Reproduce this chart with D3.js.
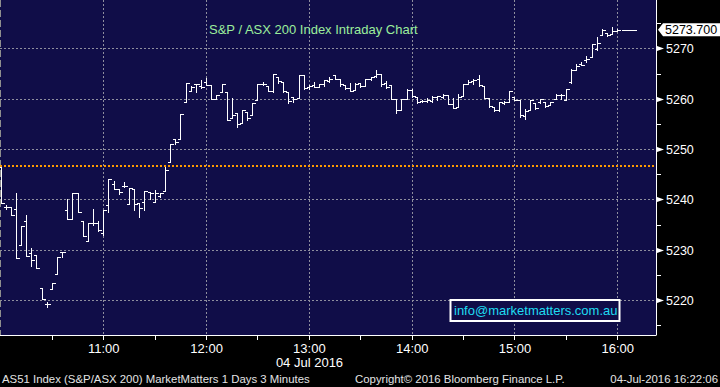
<!DOCTYPE html>
<html>
<head>
<meta charset="utf-8">
<script src="https://cdn.jsdelivr.net/npm/d3@7"></script>
<style>
html, body { margin: 0; padding: 0; background: #000; }
svg { display: block; font-family: "Liberation Sans", Arial, sans-serif; }
</style>
</head>
<body>
<div id="chart"></div>
<script>
// AS51 intraday, 3 minute bars from 10:00
var barStart = "10:00", barMinutes = 3;
var opens = [
  5246.5,5238.6,5238.6,5238.2,5231.0,5235.8,5229.3,5229.0,5222.4,5219.3,
  5222.2,5225.2,5229.5,5238.0,5236.1,5241.2,5235.7,5231.8,5235.4,5235.3,
  5233.3,5239.0,5243.1,5242.1,5242.7,5239.1,5242.1,5239.3,5239.6,5241.4,
  5239.6,5240.7,5241.6,5247.4,5252.1,5252.0,5259.3,5261.6,5263.0,5262.5,
  5263.4,5262.7,5259.9,5261.4,5261.3,5256.1,5257.1,5255.1,5257.4,5256.8,
  5259.7,5263.0,5262.6,5261.5,5264.3,5263.3,5261.4,5260.3,5260.1,5264.7,
  5262.3,5262.8,5262.4,5262.9,5263.6,5264.7,5263.9,5262.7,5262.2,5261.7,
  5263.1,5262.6,5263.9,5264.5,5264.9,5263.2,5262.8,5259.9,5257.8,5259.9,
  5261.8,5260.4,5259.5,5259.5,5259.5,5260.3,5260.4,5260.8,5259.0,5258.4,
  5260.5,5263.0,5263.5,5263.9,5262.6,5260.2,5258.4,5257.7,5259.2,5259.4,
  5260.4,5259.8,5256.6,5257.8,5259.1,5259.3,5259.4,5258.7,5259.9,5260.8,
  5259.8,5263.3,5265.8,5266.8,5267.6,5268.2,5269.8,5272.6,5273.0,5272.8,
  5273.5
];
var highs = [
  5246.5,5239.0,5238.6,5241.2,5234.8,5236.9,5230.3,5229.0,5222.4,5219.7,
  5223.5,5228.6,5229.6,5240.0,5241.2,5241.2,5235.7,5235.4,5238.1,5235.7,
  5237.9,5244.1,5243.7,5242.1,5243.5,5242.3,5242.1,5239.3,5241.6,5241.5,
  5241.9,5241.2,5246.5,5251.1,5252.1,5256.9,5263.2,5262.6,5263.0,5263.7,
  5264.2,5262.7,5260.7,5263.0,5261.3,5260.1,5257.1,5257.8,5257.4,5259.1,
  5263.0,5263.4,5262.6,5265.0,5264.4,5263.3,5261.4,5260.3,5264.7,5264.7,
  5262.7,5263.4,5262.9,5263.7,5264.4,5264.7,5263.9,5262.7,5263.1,5263.1,
  5263.1,5263.9,5264.4,5265.8,5264.9,5263.6,5262.8,5259.9,5259.9,5261.9,
  5261.9,5260.4,5259.8,5260.1,5260.5,5260.6,5260.9,5260.8,5260.2,5260.9,
  5263.0,5263.7,5264.0,5264.7,5262.6,5260.2,5258.4,5259.4,5259.5,5261.6,
  5260.4,5259.8,5257.9,5259.7,5259.1,5259.9,5259.4,5259.4,5260.9,5260.9,
  5261.9,5266.0,5266.8,5267.2,5268.5,5270.9,5272.3,5273.8,5273.1,5274.3,
  5273.8
];
var lows = [
  5239.3,5238.1,5237.0,5228.3,5231.0,5228.8,5226.7,5226.4,5220.2,5218.7,
  5222.2,5225.2,5228.6,5236.1,5236.1,5237.6,5232.8,5231.8,5234.9,5233.7,
  5232.9,5237.6,5242.0,5241.0,5242.5,5239.1,5238.0,5236.6,5238.0,5240.0,
  5239.6,5240.4,5241.6,5247.4,5251.0,5252.0,5259.3,5261.6,5261.4,5262.2,
  5262.7,5259.9,5259.9,5261.4,5255.8,5256.1,5254.3,5255.1,5255.8,5256.8,
  5259.7,5262.8,5261.5,5261.4,5263.2,5261.3,5259.1,5259.4,5260.1,5262.0,
  5262.0,5262.3,5262.3,5262.6,5263.3,5263.9,5262.5,5261.9,5261.6,5261.7,
  5262.3,5262.6,5263.7,5264.4,5262.5,5262.2,5259.9,5257.1,5257.8,5259.9,
  5260.4,5259.2,5259.3,5259.4,5259.3,5259.8,5260.1,5258.9,5258.1,5258.4,
  5260.5,5262.9,5263.0,5262.6,5260.1,5258.4,5257.6,5257.6,5258.9,5259.4,
  5259.7,5256.4,5255.9,5257.8,5257.9,5259.2,5258.3,5258.7,5259.9,5259.9,
  5259.7,5263.2,5265.8,5266.6,5267.2,5268.2,5269.7,5272.6,5272.5,5272.8,
  5273.5
];
var closes = [
  5239.3,5238.6,5237.0,5228.3,5234.8,5228.8,5228.0,5226.4,5220.2,5219.3,
  5223.5,5228.6,5229.5,5236.1,5241.2,5237.6,5232.8,5235.4,5235.3,5234.0,
  5237.9,5244.1,5242.1,5241.5,5242.7,5242.3,5239.1,5238.4,5241.6,5241.2,
  5241.3,5241.2,5245.9,5251.1,5251.5,5256.9,5263.2,5262.4,5263.0,5262.3,
  5262.7,5259.9,5260.7,5263.0,5255.8,5256.8,5255.0,5257.8,5256.1,5259.1,
  5263.0,5262.9,5261.6,5265.0,5263.5,5261.5,5259.5,5259.9,5264.7,5262.1,
  5262.5,5262.4,5262.9,5263.7,5263.9,5264.0,5262.9,5262.1,5261.6,5263.0,
  5262.6,5263.9,5264.4,5264.9,5263.0,5262.4,5259.9,5257.8,5259.9,5261.8,
  5260.6,5259.3,5259.5,5259.7,5260.4,5260.5,5260.8,5259.0,5258.2,5260.4,
  5262.9,5263.3,5263.8,5262.7,5260.2,5258.5,5257.7,5259.3,5259.4,5261.5,
  5259.8,5256.8,5257.6,5259.7,5258.2,5259.9,5258.5,5259.3,5260.8,5260.8,
  5261.9,5265.8,5266.5,5266.7,5267.8,5270.9,5271.0,5273.7,5272.6,5273.4,
  5273.7
];
var lastPrice = 5273.700;
var closeLine = ["16:02", "16:11"];
var prevClose = 5246.7;

var yMajor = [5220, 5230, 5240, 5250, 5260, 5270];
var yMinor = [5215, 5225, 5235, 5245, 5255, 5265, 5275];
var timeTicks = ["10:30","11:00","11:30","12:00","12:30","13:00","13:30",
                 "14:00","14:30","15:00","15:30","16:00"];
var xDomain = ["10:00:00", "16:22:36"];
var yDomain = [5213.1, 5279.6];

var titleText = "S&P / ASX 200 Index Intraday Chart";
var dateText = "04 Jul 2016";
var emailText = "info@marketmatters.com.au";
var footLeft = "AS51 Index (S&P/ASX 200) MarketMatters 1 Days 3 Minutes";
var footMid = "Copyright\u00a9 2016 Bloomberg Finance L.P.";
var footRight = "04-Jul-2016 16:22:06";

var W = 720, H = 387, PW = 656, PH = 335;

function tm(s) {
    var p = s.split(':');
    return new Date(2016, 6, 4, +p[0], +p[1], +(p[2] || 0));
}
var t0 = tm(barStart);
function barTime(i) { return new Date(t0.getTime() + i * barMinutes * 60000); }

var x = d3.scaleTime().domain(xDomain.map(tm)).range([0.5, PW]);
var y = d3.scaleLinear().domain(yDomain).range([PH, 0]);
function px(v) { return Math.round(v) + 0.5; }

var svg = d3.select('#chart').append('svg').attr('width', W).attr('height', H);
svg.append('rect').attr('width', W).attr('height', H).attr('fill', '#000');
svg.append('rect').attr('width', PW).attr('height', PH).attr('fill', '#100d48');

var grid = svg.append('g').attr('stroke', '#8e8e9e').attr('stroke-width', 1)
    .attr('stroke-dasharray', '2,2').attr('shape-rendering', 'crispEdges');
grid.selectAll('line.h').data(yMajor).join('line').attr('class', 'h')
    .attr('x1', 0).attr('x2', PW)
    .attr('y1', function(d){ return px(y(d)); }).attr('y2', function(d){ return px(y(d)); });
grid.selectAll('line.v').data(timeTicks.filter(function(d){ return d.slice(3) === '00'; })).join('line').attr('class', 'v')
    .attr('y1', 0).attr('y2', PH)
    .attr('x1', function(d){ return px(x(tm(d))); }).attr('x2', function(d){ return px(x(tm(d))); });
// day boundary on the left edge
svg.append('line').attr('x1', 0.5).attr('x2', 0.5).attr('y1', 0).attr('y2', PH)
    .attr('stroke', '#8e8e8e').attr('stroke-dasharray', '7,3').attr('shape-rendering', 'crispEdges');

// previous close
svg.append('line').attr('x1', 0).attr('x2', PW)
    .attr('y1', Math.round(y(prevClose))).attr('y2', Math.round(y(prevClose)))
    .attr('stroke', '#ff9a00').attr('stroke-width', 2).attr('stroke-dasharray', '2,2');

// OHLC bars
var bars = opens.map(function(o, i){ return {t: barTime(i), o: o, h: highs[i], l: lows[i], c: closes[i]}; });
svg.append('g').selectAll('path').data(bars).join('path')
    .attr('d', function(d){
        var cx = px(x(d.t)), yh = px(y(d.h)), yl = px(y(d.l));
        if (yl - yh < 1) yl = yh + 1;
        return 'M' + (cx - 2.5) + ',' + px(y(d.o)) + 'H' + cx +
               'M' + cx + ',' + (yh - 0.5) + 'V' + (yl + 0.5) +
               'M' + cx + ',' + px(y(d.c)) + 'H' + (cx + 3);
    })
    .attr('fill', 'none').attr('stroke', '#fff').attr('stroke-width', 1)
    .attr('shape-rendering', 'crispEdges');
svg.append('line')
    .attr('x1', px(x(tm(closeLine[0])))).attr('x2', px(x(tm(closeLine[1]))))
    .attr('y1', px(y(lastPrice))).attr('y2', px(y(lastPrice)))
    .attr('stroke', '#fff').attr('shape-rendering', 'crispEdges');

// axes
var xAxis = d3.axisBottom(x).tickValues(timeTicks.map(tm)).tickSize(4)
    .tickFormat(function(d){ return d.getMinutes() === 0 ? d3.timeFormat('%H:%M')(d) : ''; });
var gx = svg.append('g').attr('transform', 'translate(0,' + (PH + 0.5) + ')').call(xAxis);
gx.select('.domain').attr('stroke', '#fff').attr('d', 'M0,0H' + PW);
gx.selectAll('.tick line').attr('stroke', '#fff').attr('shape-rendering', 'crispEdges');
gx.selectAll('.tick text').attr('fill', '#fff').attr('font-size', '13px')
    .attr('font-family', '"Liberation Sans", Arial, sans-serif').attr('y', 8).attr('dy', '0.71em');

var yAxis = d3.axisRight(y).tickValues(yMinor).tickSize(4).tickFormat('');
var gy = svg.append('g').attr('transform', 'translate(' + (PW + 0.5) + ',0)').call(yAxis);
gy.select('.domain').attr('stroke', '#fff').attr('d', 'M0,0V' + (PH + 0.5));
gy.selectAll('.tick line').attr('stroke', '#fff').attr('shape-rendering', 'crispEdges');

var major = svg.append('g').selectAll('g').data(yMajor).join('g')
    .attr('transform', function(d){ return 'translate(' + (PW + 1) + ',' + px(y(d)) + ')'; });
major.append('path').attr('d', 'M0,-2.5L7,0L0,2.5Z').attr('fill', '#fff');
major.append('text').attr('x', 9).attr('y', 4.5).attr('fill', '#fff')
    .attr('font-size', '12.5px').text(function(d){ return d; });

// last price tag
var ly = y(lastPrice);
svg.append('path')
    .attr('d', 'M' + (PW + 2) + ',' + ly + 'L' + (PW + 7) + ',' + (ly - 6.5) + 'H' + W + 'V' + (ly + 6.5) + 'H' + (PW + 7) + 'Z')
    .attr('fill', '#fff');
svg.append('text').attr('x', PW + 9).attr('y', ly + 4.5).attr('fill', '#000')
    .attr('font-size', '12.5px').text(d3.format('.3f')(lastPrice));

// title, email box, date
svg.append('text').attr('x', 209).attr('y', 33.5).attr('fill', '#9cee9c')
    .attr('font-size', '13px').text(titleText);
svg.append('rect').attr('x', 450.5).attr('y', 300).attr('width', 169).attr('height', 21)
    .attr('fill', '#100d48').attr('stroke', '#fff').attr('stroke-width', 2);
svg.append('text').attr('x', 454).attr('y', 315).attr('fill', '#1fdcf2')
    .attr('font-size', '13px').text(emailText);
svg.append('text').attr('x', px(x(tm('13:00')))).attr('y', 366.5).attr('text-anchor', 'middle')
    .attr('fill', '#fff').attr('font-size', '13px').text(dateText);

// footer
var foot = svg.append('g').attr('fill', '#e4e4e4').attr('font-size', '11.4px');
foot.append('text').attr('x', 2).attr('y', 383).text(footLeft);
foot.append('text').attr('x', 355).attr('y', 383).text(footMid);
foot.append('text').attr('x', 718).attr('y', 383).attr('text-anchor', 'end').text(footRight);
</script>
</body>
</html>
